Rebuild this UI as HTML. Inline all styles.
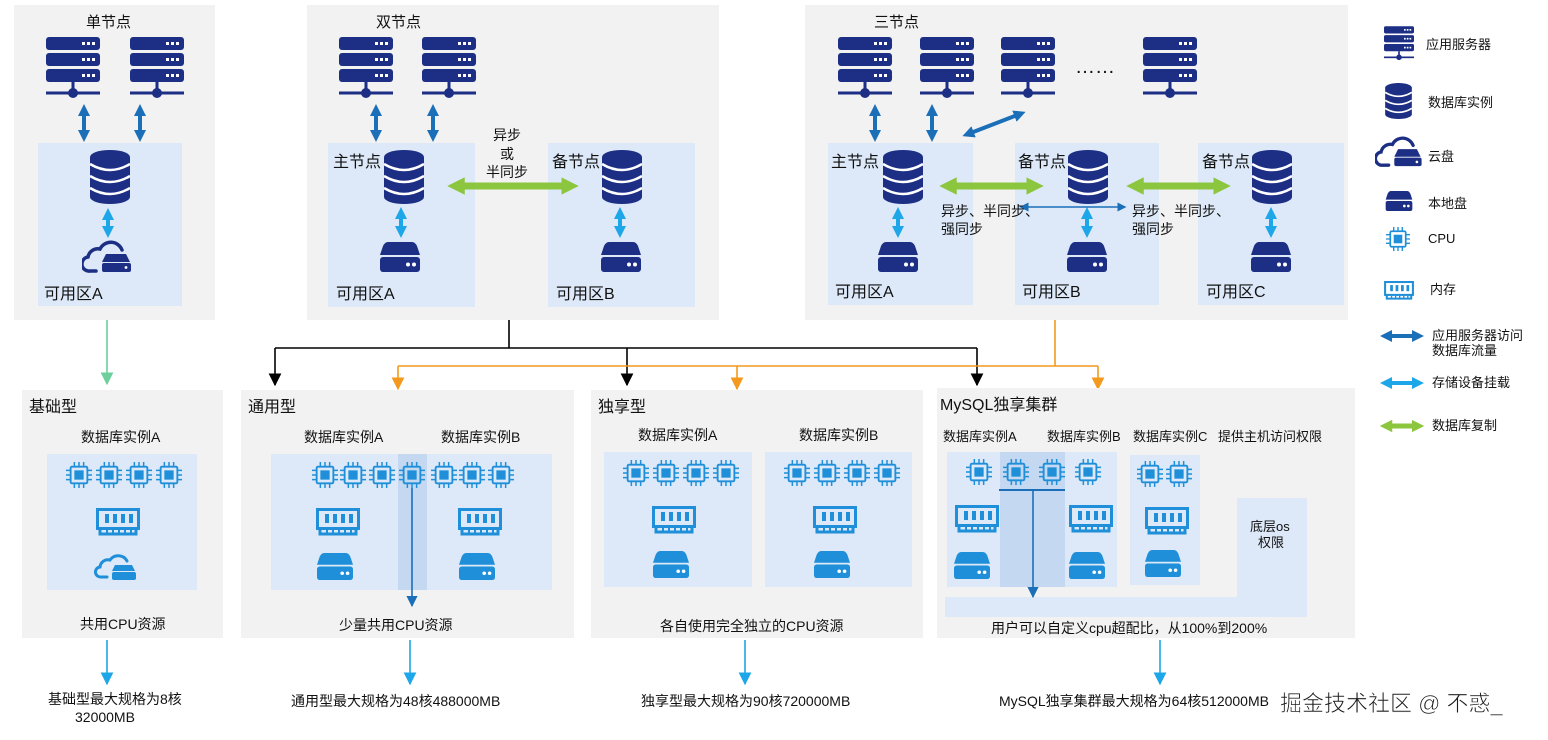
<!DOCTYPE html>
<html><head><meta charset="utf-8"><style>
html,body{margin:0;padding:0;background:#fff;}
svg{font-size:14px;}
svg text{font-family:"Liberation Sans","Noto Sans CJK SC",sans-serif;fill:#111;}
</style></head><body>
<svg width="1548" height="735" viewBox="0 0 1548 735" xmlns="http://www.w3.org/2000/svg">
<defs>
<symbol id="srv" viewBox="0 0 54 64">
<g fill="#1c2f85"><rect x="0" y="0" width="54" height="13" rx="3"/><rect x="0" y="16" width="54" height="13" rx="3"/><rect x="0" y="32" width="54" height="13" rx="3"/>
<rect x="25.5" y="45" width="3" height="8"/><rect x="0" y="54.5" width="54" height="3"/><circle cx="27" cy="56" r="5"/></g>
<g fill="#fff"><rect x="36" y="5" width="3" height="3"/><rect x="41" y="5" width="3" height="3"/><rect x="46" y="5" width="3" height="3"/>
<rect x="36" y="21" width="3" height="3"/><rect x="41" y="21" width="3" height="3"/><rect x="46" y="21" width="3" height="3"/>
<rect x="36" y="37" width="3" height="3"/><rect x="41" y="37" width="3" height="3"/><rect x="46" y="37" width="3" height="3"/></g>
</symbol>
<symbol id="db" viewBox="0 0 40 54">
<g fill="#1c2f85"><rect x="0" y="7" width="40" height="40"/><ellipse cx="20" cy="47" rx="20" ry="7"/><ellipse cx="20" cy="7" rx="20" ry="7"/></g>
<g fill="none" stroke="#fff" stroke-width="2.5"><path d="M0,14 Q20,26 40,14"/><path d="M0,26 Q20,38 40,26"/><path d="M0,38 Q20,50 40,38"/></g>
</symbol>
<symbol id="disk" viewBox="0 0 40 30">
<path d="M8,0 H32 Q35,0 37,4 L40,13 H0 L3,4 Q5,0 8,0Z" fill="currentColor"/>
<rect x="0" y="15" width="40" height="15" rx="3" fill="currentColor"/>
<circle cx="28" cy="22.5" r="2" fill="#fff"/><circle cx="34" cy="22.5" r="2" fill="#fff"/>
</symbol>
<symbol id="cloud" viewBox="0 0 50 34">
<path d="M14,31 H8 A7,7 0 0 1 6,17 A10,10 0 0 1 18,9 A12,12 0 0 1 40,10" fill="none" stroke="#1c2f85" stroke-width="3.5" stroke-linecap="round"/>
<path d="M24,14 H44 L48,22 H20Z" fill="#1c2f85"/><rect x="20" y="23" width="29" height="9" rx="2" fill="#1c2f85"/><circle cx="44" cy="27.5" r="1.4" fill="#fff"/>
</symbol>
<symbol id="cpu" viewBox="0 0 28 28">
<rect x="5" y="5" width="18" height="18" rx="1.5" fill="none" stroke="#1e8fd8" stroke-width="2"/>
<rect x="9" y="9" width="10" height="10" fill="#1e8fd8"/>
<g stroke="#1e8fd8" stroke-width="1.6"><path d="M9,0V5M14,0V5M19,0V5M9,23V28M14,23V28M19,23V28M0,9H5M0,14H5M0,19H5M23,9H28M23,14H28M23,19H28"/></g>
</symbol>
<symbol id="mem" viewBox="0 0 44 28">
<rect x="1.5" y="1.5" width="41" height="19" fill="none" stroke="#1e8fd8" stroke-width="3"/>
<g fill="#1e8fd8"><rect x="9" y="6" width="4" height="9"/><rect x="17" y="6" width="4" height="9"/><rect x="25" y="6" width="4" height="9"/><rect x="33" y="6" width="4" height="9"/></g>
<path d="M4,20 V26 H40 V20" fill="none" stroke="#1e8fd8" stroke-width="3"/>
<g fill="#1e8fd8"><rect x="10" y="22" width="2" height="4"/><rect x="16" y="22" width="2" height="4"/><rect x="22" y="22" width="2" height="4"/><rect x="28" y="22" width="2" height="4"/><rect x="34" y="22" width="2" height="4"/></g>
</symbol>
<marker id="hd" viewBox="0 0 10 10" refX="5" refY="5" markerWidth="3" markerHeight="3" orient="auto-start-reverse"><path d="M0,0 L10,5 L0,10Z" fill="#1b6fb8"/></marker>
<marker id="hl" viewBox="0 0 10 10" refX="5" refY="5" markerWidth="3" markerHeight="3" orient="auto-start-reverse"><path d="M0,0 L10,5 L0,10Z" fill="#1ea7e8"/></marker>
<marker id="hg" viewBox="0 0 10 10" refX="5" refY="5" markerWidth="2.5" markerHeight="2.5" orient="auto-start-reverse"><path d="M0,0 L10,5 L0,10Z" fill="#8cc63f"/></marker>
<marker id="ht" viewBox="0 0 10 10" refX="5" refY="5" markerWidth="6" markerHeight="6" orient="auto-start-reverse"><path d="M0,0 L10,5 L0,10Z" fill="#1b6fb8"/></marker>
<marker id="ak" viewBox="0 0 10 10" refX="9" refY="5" markerWidth="8" markerHeight="8" orient="auto"><path d="M0,0 L10,5 L0,10Z" fill="#000"/></marker>
<marker id="ao" viewBox="0 0 10 10" refX="9" refY="5" markerWidth="8" markerHeight="8" orient="auto"><path d="M0,0 L10,5 L0,10Z" fill="#f39a1e"/></marker>
<marker id="ag" viewBox="0 0 10 10" refX="9" refY="5" markerWidth="8" markerHeight="8" orient="auto"><path d="M0,0 L10,5 L0,10Z" fill="#6dcf9c"/></marker>
<marker id="ab" viewBox="0 0 10 10" refX="9" refY="5" markerWidth="8" markerHeight="8" orient="auto"><path d="M0,0 L10,5 L0,10Z" fill="#1ea7e8"/></marker>
<marker id="ab2" viewBox="0 0 10 10" refX="9" refY="5" markerWidth="7" markerHeight="7" orient="auto"><path d="M0,0 L10,5 L0,10Z" fill="#1b6fb8"/></marker>
</defs>

<rect x="14" y="5" width="201" height="315" fill="#f2f2f2"/>
<rect x="307" y="5" width="412" height="315" fill="#f2f2f2"/>
<rect x="805" y="5" width="543" height="315" fill="#f2f2f2"/>
<g fill="#dde9f8">
<rect x="38" y="143" width="144" height="163"/>
<rect x="328" y="143" width="147" height="164"/><rect x="548" y="143" width="147" height="164"/>
<rect x="828" y="143" width="145" height="162"/><rect x="1015" y="143" width="144" height="162"/><rect x="1198" y="143" width="146" height="162"/>
</g>
<text x="86" y="27" font-size="15">单节点</text>
<text x="376" y="27" font-size="15">双节点</text>
<text x="874" y="27" font-size="15">三节点</text>

<use href="#srv" x="46" y="37" width="54" height="64"/><use href="#srv" x="130" y="37" width="54" height="64"/>
<use href="#srv" x="339" y="37" width="54" height="64"/><use href="#srv" x="422" y="37" width="54" height="64"/>
<use href="#srv" x="838" y="37" width="54" height="64"/><use href="#srv" x="920" y="37" width="54" height="64"/><use href="#srv" x="1001" y="37" width="54" height="64"/><use href="#srv" x="1143" y="37" width="54" height="64"/>
<text x="1075" y="73" font-size="20">……</text>

<g stroke="#1b6fb8" stroke-width="4">
<line x1="84" y1="110" x2="84" y2="136" marker-start="url(#hd)" marker-end="url(#hd)"/>
<line x1="140" y1="110" x2="140" y2="136" marker-start="url(#hd)" marker-end="url(#hd)"/>
<line x1="376" y1="110" x2="376" y2="136" marker-start="url(#hd)" marker-end="url(#hd)"/>
<line x1="433" y1="110" x2="433" y2="136" marker-start="url(#hd)" marker-end="url(#hd)"/>
<line x1="875" y1="110" x2="875" y2="136" marker-start="url(#hd)" marker-end="url(#hd)"/>
<line x1="932" y1="110" x2="932" y2="136" marker-start="url(#hd)" marker-end="url(#hd)"/>
<line x1="968" y1="134" x2="1020" y2="114" marker-start="url(#hd)" marker-end="url(#hd)"/>
</g>
<g stroke="#1ea7e8" stroke-width="4">
<line x1="108" y1="214" x2="108" y2="232" marker-start="url(#hl)" marker-end="url(#hl)"/>
<line x1="401" y1="213" x2="401" y2="232" marker-start="url(#hl)" marker-end="url(#hl)"/>
<line x1="620" y1="213" x2="620" y2="232" marker-start="url(#hl)" marker-end="url(#hl)"/>
<line x1="898" y1="213" x2="898" y2="232" marker-start="url(#hl)" marker-end="url(#hl)"/>
<line x1="1087" y1="213" x2="1087" y2="232" marker-start="url(#hl)" marker-end="url(#hl)"/>
<line x1="1271" y1="213" x2="1271" y2="232" marker-start="url(#hl)" marker-end="url(#hl)"/>
</g>
<g stroke="#8cc63f" stroke-width="7">
<line x1="456" y1="186" x2="570" y2="186" marker-start="url(#hg)" marker-end="url(#hg)"/>
<line x1="948" y1="186" x2="1035" y2="186" marker-start="url(#hg)" marker-end="url(#hg)"/>
<line x1="1135" y1="186" x2="1222" y2="186" marker-start="url(#hg)" marker-end="url(#hg)"/>
</g>
<line x1="1024" y1="207" x2="1122" y2="207" stroke="#1b6fb8" stroke-width="1.5" marker-start="url(#ht)" marker-end="url(#ht)"/>

<use href="#db" x="90" y="150" width="40" height="54"/>
<use href="#db" x="384" y="150" width="40" height="54"/><use href="#db" x="602" y="150" width="40" height="54"/>
<use href="#db" x="883" y="150" width="40" height="54"/><use href="#db" x="1068" y="150" width="40" height="54"/><use href="#db" x="1252" y="150" width="40" height="54"/>
<use href="#cloud" x="82" y="240" width="50" height="34"/>
<g color="#1c2f85">
<use href="#disk" x="380" y="242" width="40" height="30"/><use href="#disk" x="601" y="242" width="40" height="30"/>
<use href="#disk" x="878" y="242" width="40" height="30"/><use href="#disk" x="1067" y="242" width="40" height="30"/><use href="#disk" x="1251" y="242" width="40" height="30"/>
</g>
<text x="44" y="299" font-size="16">可用区A</text>
<text x="336" y="299" font-size="16">可用区A</text><text x="556" y="299" font-size="16">可用区B</text>
<text x="835" y="297" font-size="16">可用区A</text><text x="1022" y="297" font-size="16">可用区B</text><text x="1206" y="297" font-size="16">可用区C</text>
<text x="333" y="167" font-size="16">主节点</text><text x="552" y="167" font-size="16">备节点</text>
<text x="831" y="167" font-size="16">主节点</text><text x="1018" y="167" font-size="16">备节点</text><text x="1202" y="167" font-size="16">备节点</text>
<text x="493" y="140">异步</text><text x="500" y="159">或</text><text x="486" y="177">半同步</text>
<text x="941" y="216">异步、半同步、</text><text x="941" y="234">强同步</text>
<text x="1132" y="216">异步、半同步、</text><text x="1132" y="234">强同步</text>

<g fill="none" stroke-width="1.6">
<path d="M509,320 V348 M275,348 H977" stroke="#000"/>
<line x1="275" y1="348" x2="275" y2="385" stroke="#000" marker-end="url(#ak)"/>
<line x1="627" y1="348" x2="627" y2="385" stroke="#000" marker-end="url(#ak)"/>
<line x1="977" y1="348" x2="977" y2="385" stroke="#000" marker-end="url(#ak)"/>
<path d="M1055,320 V366 M398,366 H1098" stroke="#f39a1e"/>
<line x1="398" y1="366" x2="398" y2="389" stroke="#f39a1e" marker-end="url(#ao)"/>
<line x1="737" y1="366" x2="737" y2="389" stroke="#f39a1e" marker-end="url(#ao)"/>
<line x1="1098" y1="366" x2="1098" y2="389" stroke="#f39a1e" marker-end="url(#ao)"/>
<line x1="107" y1="320" x2="107" y2="384" stroke="#6dcf9c" marker-end="url(#ag)"/>
<line x1="107" y1="640" x2="107" y2="684" stroke="#1ea7e8" marker-end="url(#ab)"/>
<line x1="410" y1="640" x2="410" y2="684" stroke="#1ea7e8" marker-end="url(#ab)"/>
<line x1="745" y1="640" x2="745" y2="684" stroke="#1ea7e8" marker-end="url(#ab)"/>
<line x1="1160" y1="640" x2="1160" y2="684" stroke="#1ea7e8" marker-end="url(#ab)"/>
</g>

<rect x="22" y="390" width="201" height="248" fill="#f2f2f2"/>
<rect x="241" y="390" width="333" height="248" fill="#f2f2f2"/>
<rect x="591" y="390" width="332" height="248" fill="#f2f2f2"/>
<rect x="937" y="388" width="418" height="250" fill="#f2f2f2"/>
<text x="29" y="412" font-size="16">基础型</text>
<text x="248" y="412" font-size="16">通用型</text>
<text x="598" y="412" font-size="16">独享型</text>
<text x="940" y="410" font-size="16">MySQL独享集群</text>

<g fill="#dde9f8">
<rect x="47" y="454" width="150" height="136"/>
<rect x="271" y="454" width="281" height="136"/>
<rect x="604" y="452" width="148" height="135"/><rect x="765" y="452" width="147" height="135"/>
<rect x="947" y="452" width="170" height="135"/><rect x="1130" y="455" width="70" height="130"/>
<rect x="1237" y="498" width="70" height="119"/><rect x="945" y="597" width="362" height="20"/>
</g>
<rect x="398" y="454" width="29" height="136" fill="#c4d8f2"/>
<rect x="1000" y="452" width="65" height="135" fill="#c4d8f2"/>

<text x="81" y="442">数据库实例A</text>
<text x="304" y="442">数据库实例A</text><text x="441" y="442">数据库实例B</text>
<text x="638" y="440">数据库实例A</text><text x="799" y="440">数据库实例B</text>
<text x="943" y="441" font-size="13">数据库实例A</text><text x="1047" y="441" font-size="13">数据库实例B</text><text x="1133" y="441" font-size="13">数据库实例C</text><text x="1218" y="441" font-size="13">提供主机访问权限</text>
<text x="1250" y="531" font-size="13">底层os</text><text x="1258" y="547" font-size="13">权限</text>

<g>
<use href="#cpu" x="66" y="462" width="26" height="26"/><use href="#cpu" x="96" y="462" width="26" height="26"/><use href="#cpu" x="126" y="462" width="26" height="26"/><use href="#cpu" x="156" y="462" width="26" height="26"/>
<use href="#cpu" x="312" y="462" width="26" height="26"/><use href="#cpu" x="340" y="462" width="26" height="26"/><use href="#cpu" x="369" y="462" width="26" height="26"/><use href="#cpu" x="399" y="462" width="26" height="26"/><use href="#cpu" x="431" y="462" width="26" height="26"/><use href="#cpu" x="459" y="462" width="26" height="26"/><use href="#cpu" x="488" y="462" width="26" height="26"/>
<use href="#cpu" x="623" y="460" width="26" height="26"/><use href="#cpu" x="653" y="460" width="26" height="26"/><use href="#cpu" x="683" y="460" width="26" height="26"/><use href="#cpu" x="713" y="460" width="26" height="26"/>
<use href="#cpu" x="784" y="460" width="26" height="26"/><use href="#cpu" x="814" y="460" width="26" height="26"/><use href="#cpu" x="844" y="460" width="26" height="26"/><use href="#cpu" x="874" y="460" width="26" height="26"/>
<use href="#cpu" x="966" y="459" width="26" height="26"/><use href="#cpu" x="1003" y="459" width="26" height="26"/><use href="#cpu" x="1039" y="459" width="26" height="26"/><use href="#cpu" x="1075" y="459" width="26" height="26"/>
<use href="#cpu" x="1137" y="461" width="26" height="26"/><use href="#cpu" x="1166" y="461" width="26" height="26"/>
</g>
<g>
<use href="#mem" x="96" y="508" width="44" height="28"/>
<use href="#mem" x="316" y="508" width="44" height="28"/><use href="#mem" x="458" y="508" width="44" height="28"/>
<use href="#mem" x="652" y="506" width="44" height="28"/><use href="#mem" x="813" y="506" width="44" height="28"/>
<use href="#mem" x="955" y="505" width="44" height="28"/><use href="#mem" x="1069" y="505" width="44" height="28"/><use href="#mem" x="1145" y="507" width="44" height="28"/>
</g>
<g color="#1e8fd8">
<use href="#disk" x="317" y="553" width="36" height="27"/><use href="#disk" x="459" y="553" width="36" height="27"/>
<use href="#disk" x="653" y="551" width="36" height="27"/><use href="#disk" x="814" y="551" width="36" height="27"/>
<use href="#disk" x="954" y="552" width="36" height="27"/><use href="#disk" x="1069" y="552" width="36" height="27"/><use href="#disk" x="1145" y="550" width="36" height="27"/>
</g>
<g transform="translate(95,553)"><path d="M12,24 H6 A5,5 0 0 1 5,14 A8,8 0 0 1 15,7 A10,10 0 0 1 32,8" fill="none" stroke="#1e8fd8" stroke-width="3" stroke-linecap="round"/><path d="M20,12 H37 L40,18 H17Z" fill="#1e8fd8"/><rect x="17" y="19" width="24" height="8" rx="2" fill="#1e8fd8"/></g>

<line x1="412" y1="488" x2="412" y2="606" stroke="#1b6fb8" stroke-width="1.6" marker-end="url(#ab2)"/>
<line x1="999" y1="490" x2="1065" y2="490" stroke="#1b6fb8" stroke-width="2"/>
<line x1="1033" y1="490" x2="1033" y2="597" stroke="#1b6fb8" stroke-width="1.6" marker-end="url(#ab2)"/>

<text x="80" y="629">共用CPU资源</text>
<text x="339" y="630">少量共用CPU资源</text>
<text x="660" y="631">各自使用完全独立的CPU资源</text>
<text x="991" y="633">用户可以自定义cpu超配比，从100%到200%</text>

<text x="48" y="704">基础型最大规格为8核</text><text x="75" y="722">32000MB</text>
<text x="291" y="706">通用型最大规格为48核488000MB</text>
<text x="641" y="706">独享型最大规格为90核720000MB</text>
<text x="999" y="706">MySQL独享集群最大规格为64核512000MB</text>
<text x="1280" y="711" font-size="22" style="fill:#1a1a1a" stroke="#fff" stroke-width="0.6">掘金技术社区 @ 不惑_</text>

<use href="#srv" x="1384" y="26" width="30" height="36"/>
<use href="#db" x="1385" y="83" width="27" height="36"/>
<use href="#cloud" x="1375" y="136" width="48" height="32"/>
<g color="#1c2f85"><use href="#disk" x="1385" y="191" width="28" height="20"/></g>
<use href="#cpu" x="1386" y="227" width="24" height="24"/>
<use href="#mem" x="1384" y="281" width="30" height="19"/>
<line x1="1386" y1="336" x2="1418" y2="336" stroke="#1b6fb8" stroke-width="4" marker-start="url(#hd)" marker-end="url(#hd)"/>
<line x1="1386" y1="383" x2="1418" y2="383" stroke="#1ea7e8" stroke-width="4" marker-start="url(#hl)" marker-end="url(#hl)"/>
<line x1="1386" y1="426" x2="1418" y2="426" stroke="#8cc63f" stroke-width="5" marker-start="url(#hg)" marker-end="url(#hg)"/>
<text x="1426" y="49" font-size="13">应用服务器</text>
<text x="1428" y="107" font-size="13">数据库实例</text>
<text x="1428" y="161" font-size="13">云盘</text>
<text x="1428" y="208" font-size="13">本地盘</text>
<text x="1428" y="243" font-size="13">CPU</text>
<text x="1430" y="294" font-size="13">内存</text>
<text x="1432" y="340" font-size="13">应用服务器访问</text><text x="1432" y="355" font-size="13">数据库流量</text>
<text x="1432" y="387" font-size="13">存储设备挂载</text>
<text x="1432" y="430" font-size="13">数据库复制</text>
</svg>
</body></html>
